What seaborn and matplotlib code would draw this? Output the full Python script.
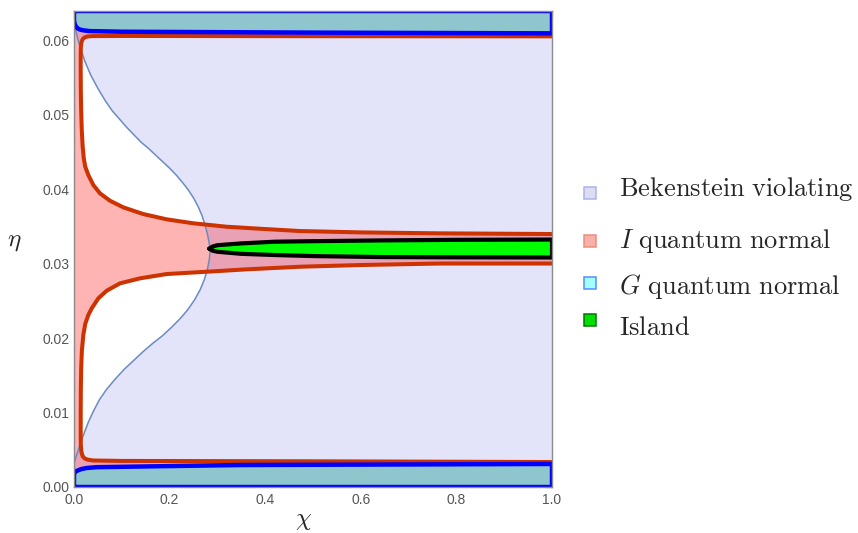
import matplotlib
matplotlib.use("Agg")
import matplotlib.pyplot as plt
import seaborn as sns
from matplotlib.patches import Rectangle
from matplotlib.ticker import MultipleLocator, FixedLocator

# ---------------- data ----------------
x_ticks = [0.0, 0.2, 0.4, 0.6, 0.8, 1.0]
x_tick_labels = ["0.0", "0.2", "0.4", "0.6", "0.8", "1.0"]
y_ticks = [0.00, 0.01, 0.02, 0.03, 0.04, 0.05, 0.06]
y_tick_labels = ["0.00", "0.01", "0.02", "0.03", "0.04", "0.05", "0.06"]
x_range = [0.0, 1.0]
y_range = [0.0, 0.0639]

# Bekenstein boundary (top -> bottom)
bek_chi = [0.0, 0.004, 0.008, 0.014, 0.023, 0.035, 0.050, 0.065, 0.080, 0.095,
           0.110, 0.125, 0.140, 0.155, 0.170, 0.185, 0.200, 0.215, 0.228, 0.240,
           0.251, 0.260, 0.268, 0.274, 0.279, 0.282, 0.2845, 0.2845, 0.283, 0.279,
           0.273, 0.264, 0.252, 0.238, 0.222, 0.205, 0.185, 0.165, 0.145, 0.125,
           0.105, 0.085, 0.068, 0.053, 0.040, 0.030, 0.021, 0.013, 0.006, 0.0]
bek_eta = [0.0626, 0.0612, 0.0601, 0.0588, 0.0571, 0.0553, 0.0535, 0.0519, 0.0505, 0.0494,
           0.0483, 0.0473, 0.0463, 0.0455, 0.0446, 0.0437, 0.0428, 0.0418, 0.0408, 0.0398,
           0.0387, 0.0376, 0.0364, 0.0352, 0.0340, 0.0330, 0.0322, 0.0315, 0.0305, 0.0292,
           0.0279, 0.0265, 0.0251, 0.0238, 0.0226, 0.0215, 0.0203, 0.0193, 0.0182, 0.0170,
           0.0158, 0.0144, 0.0131, 0.0117, 0.0101, 0.0087, 0.0072, 0.0058, 0.0044, 0.0032]

# upper boundary of I-quantum-normal region (hole above the band)
red_up_chi = [1.0, 0.5, 0.1, 0.04, 0.028, 0.022, 0.018, 0.0155, 0.0143, 0.0140,
              0.0140, 0.0143, 0.0150, 0.0162, 0.0181, 0.0205, 0.0235, 0.0300, 0.0404, 0.0544,
              0.0753, 0.1032, 0.145, 0.194, 0.2496, 0.319, 0.389, 0.473, 0.6, 0.766, 1.0]
red_up_eta = [0.06050, 0.06052, 0.06055, 0.06053, 0.06048, 0.06035, 0.06010, 0.0597, 0.0590, 0.0580,
              0.0560, 0.0530, 0.0505, 0.0480, 0.0457, 0.0441, 0.04300, 0.04188, 0.04054, 0.03942,
              0.03843, 0.03754, 0.03664, 0.03593, 0.0354, 0.03494, 0.03467, 0.03436, 0.03418, 0.03405, 0.03396]
# lower boundary of I-quantum-normal region (hole below the band)
red_lo_chi = [1.0, 0.5, 0.1, 0.04, 0.028, 0.022, 0.018, 0.0155, 0.0143, 0.0140,
              0.0140, 0.0143, 0.0150, 0.0165, 0.0195, 0.0235, 0.030, 0.037, 0.0509, 0.0684,
              0.0962, 0.138, 0.194, 0.278, 0.361, 0.473, 0.6, 0.766, 1.0]
red_lo_eta = [0.00335, 0.00345, 0.00350, 0.00356, 0.00368, 0.00385, 0.00415, 0.0047, 0.0056, 0.0068,
              0.0100, 0.0130, 0.0160, 0.0183, 0.0204, 0.0219, 0.0231, 0.02398, 0.02533, 0.02635,
              0.02734, 0.02801, 0.02859, 0.0289, 0.02922, 0.02957, 0.0298, 0.0300, 0.0300]

# G quantum normal boundaries
g_top_chi = [0.0, 0.0, 0.0015, 0.004, 0.008, 0.013, 0.0195, 0.0335, 0.1, 0.5, 1.0, 1.0]
g_top_eta = [0.0639, 0.0626, 0.06215, 0.0618, 0.06155, 0.0614, 0.0613, 0.0612, 0.06112, 0.0610, 0.0609, 0.0639]
g_bot_chi = [0.0, 0.0, 0.0015, 0.004, 0.009, 0.016, 0.0265, 0.047, 0.347, 1.0, 1.0]
g_bot_eta = [0.0, 0.0017, 0.00195, 0.0021, 0.00225, 0.00242, 0.00255, 0.00266, 0.00295, 0.00309, 0.0]

# Island
isl_chi = [0.283, 0.29, 0.30, 0.35, 0.42, 0.50, 0.64, 0.80, 1.0]
isl_top = [0.0320, 0.03228, 0.03246, 0.0327, 0.03293, 0.0330, 0.0331, 0.03318, 0.03322]
isl_bot = [0.0320, 0.03172, 0.03158, 0.0313, 0.03114, 0.0310, 0.03087, 0.03083, 0.03081]

legend_labels = [r"$\mathrm{Bekenstein\ violating}$", r"$I\ \mathrm{quantum\ normal}$",
                 r"$G\ \mathrm{quantum\ normal}$", r"$\mathrm{Island}$"]
legend_faces = ["#dcdcf5", "#f8b0a8", "#a0ffff", "#00e000"]
legend_edges = ["#aab4e6", "#e8907f", "#5a8cff", "#007700"]

# ---------------- style ----------------
sns.set_theme(style="white")
plt.rcParams["mathtext.fontset"] = "cm"
plt.rcParams["font.family"] = ["Liberation Sans", "DejaVu Sans"]

PINK = "#ffb4b4"
MAUVE = "#e9a1b6"
LAV = "#e3e3fa"
CYAN = "#8fc6cd"
GREEN = "#00ff00"
RED = "#cc3300"
BLUE = "#0000ff"
BEK = "#6a8cc2"
GREY = "#8c8c8c"

W, H = 858, 533
fig = plt.figure(figsize=(W / 100, H / 100), dpi=100)
ax = fig.add_axes([74 / W, 1 - 487 / H, 478 / W, 476 / H])
ax.set_xlim(*x_range)
ax.set_ylim(*y_range)
ax.set_facecolor(PINK)

x0, x1 = x_range
y0, y1 = y_range

# Bekenstein violating region (right of curve) -> over red region: mauve
bek_poly_x = [x0, x1, x1, x0] + bek_chi[::-1]
bek_poly_y = [y1, y1, y0, y0] + bek_eta[::-1]
ax.fill(bek_poly_x, bek_poly_y, color=MAUVE, lw=0, zorder=1)

# holes (outside I quantum normal): white, lavender where Bekenstein violating
for cx, cy in [(red_up_chi, red_up_eta), (red_lo_chi, red_lo_eta)]:
    hole = ax.fill(cx, cy, color="white", lw=0, zorder=1.1)[0]
    lav = ax.fill(bek_poly_x, bek_poly_y, color=LAV, lw=0, zorder=1.2)[0]
    lav.set_clip_path(hole)

# G quantum normal regions
ax.fill(g_top_chi, g_top_eta, color=CYAN, lw=0, zorder=1.5)
ax.fill(g_bot_chi, g_bot_eta, color=CYAN, lw=0, zorder=1.5)

# Island
ax.fill(isl_chi + isl_chi[::-1], isl_top + isl_bot[::-1], color=GREEN, lw=0, zorder=1.6)

# ---------------- boundary lines ----------------
sns.lineplot(x=bek_chi, y=bek_eta, sort=False, estimator=None, color=BEK, lw=1.1, ax=ax, zorder=2)
sns.lineplot(x=red_up_chi, y=red_up_eta, sort=False, estimator=None, color=RED, lw=2.9, ax=ax, zorder=3)
sns.lineplot(x=red_lo_chi, y=red_lo_eta, sort=False, estimator=None, color=RED, lw=2.9, ax=ax, zorder=3)
ax.plot([x0, x0], [red_lo_eta[0] - 0.001, red_up_eta[0] + 0.0015], color=RED, lw=1.5, zorder=3)
sns.lineplot(x=g_top_chi + g_top_chi[:1], y=g_top_eta + g_top_eta[:1], sort=False, estimator=None,
             color=BLUE, lw=3.2, ax=ax, zorder=4)
sns.lineplot(x=g_bot_chi + g_bot_chi[:1], y=g_bot_eta + g_bot_eta[:1], sort=False, estimator=None,
             color=BLUE, lw=3.2, ax=ax, zorder=4)
sns.lineplot(x=isl_chi + isl_chi[::-1] + isl_chi[:1], y=isl_top + isl_bot[::-1] + isl_top[:1],
             sort=False, estimator=None, color="black", lw=3.0, ax=ax, zorder=5)
for ln in ax.lines:
    ln.set_solid_joinstyle("round")
    ln.set_solid_capstyle("round")

# ---------------- axes styling ----------------
ax.xaxis.set_major_locator(FixedLocator(x_ticks))
ax.yaxis.set_major_locator(FixedLocator(y_ticks))
ax.set_xticklabels(x_tick_labels)
ax.set_yticklabels(y_tick_labels)
ax.xaxis.set_minor_locator(MultipleLocator(0.05))
ax.yaxis.set_minor_locator(MultipleLocator(0.002))
ax.tick_params(which="both", direction="in", top=True, right=True, color=GREY,
               labelcolor="#555555", labelsize=10, pad=3)
ax.tick_params(which="major", length=5, width=0.9)
ax.tick_params(which="minor", length=2.5, width=0.7)
ax.tick_params(axis="x", pad=4)
for sp in ax.spines.values():
    sp.set_visible(True)
    sp.set_color(GREY)
    sp.set_linewidth(1.0)
    sp.set_zorder(6)
ax.set_xlabel("")
ax.set_ylabel("")

fig.text(303 / W, 1 - 520 / H, r"$\chi$", fontsize=18, ha="center", va="center")
fig.text(14 / W, 1 - 241 / H, r"$\eta$", fontsize=18, ha="center", va="center")

# ---------------- legend ----------------
sw_cy = [193, 240.5, 283, 320]
txt_base = [196, 248, 294, 335]
for lab, fc, ec, cy, by in zip(legend_labels, legend_faces, legend_edges, sw_cy, txt_base):
    fig.add_artist(Rectangle((584 / W, 1 - (cy + 6) / H), 12 / W, 12 / H,
                             transform=fig.transFigure, facecolor=fc, edgecolor=ec, lw=1.1))
    fig.text(619 / W, 1 - by / H, lab, fontsize=19, ha="left", va="baseline")

fig.savefig("out.png", dpi=100)
